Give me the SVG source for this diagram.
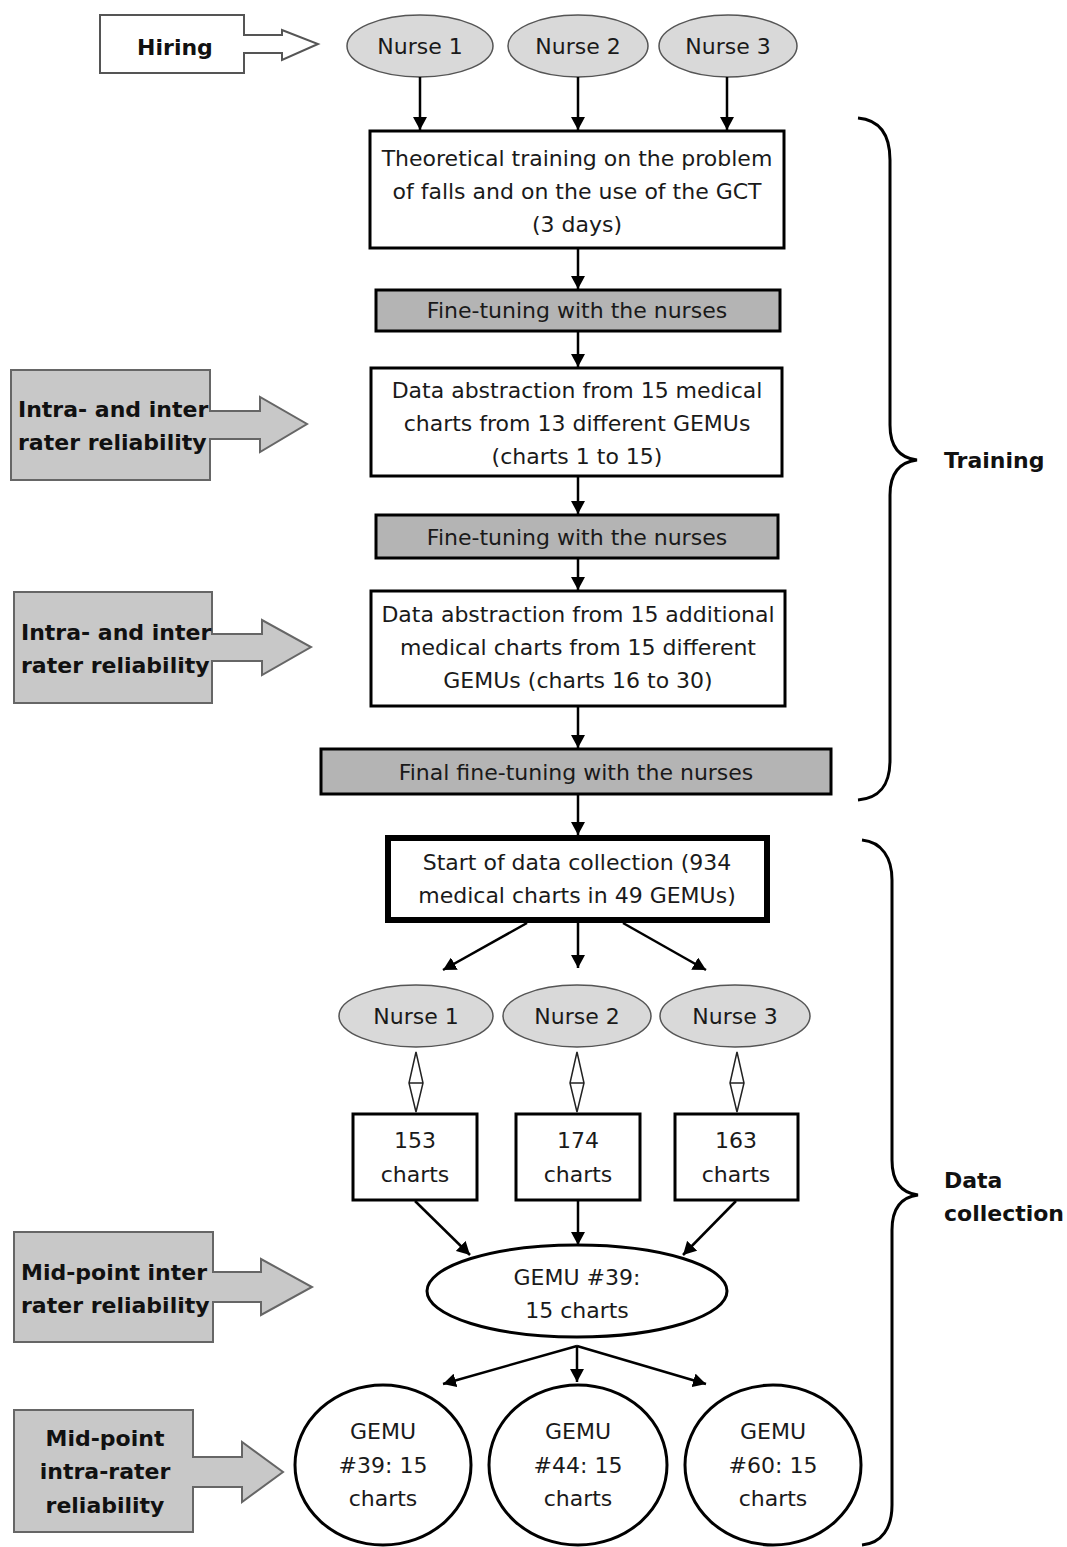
<svg xmlns="http://www.w3.org/2000/svg" width="1067" height="1547" viewBox="0 0 1067 1547">
<style>
.t{font-family:"DejaVu Sans",sans-serif;font-size:22px;fill:#1a1a1a;text-anchor:middle}
.b{font-family:"DejaVu Sans",sans-serif;font-weight:bold;font-size:22px;fill:#111}
.bm{text-anchor:middle}
.box{fill:#fff;stroke:#000;stroke-width:3}
.ft{fill:#b4b4b4;stroke:#000;stroke-width:3}
.nurse{fill:#d9d9d9;stroke:#555;stroke-width:1.5}
.side{fill:#c8c8c8;stroke:#666;stroke-width:2}
.conn{stroke:#000;stroke-width:2.5;fill:none;marker-end:url(#ah)}
.brace{stroke:#000;stroke-width:3;fill:none}
.dbl{fill:#fff;stroke:#222;stroke-width:1.5}
</style>
<defs>
<marker id="ah" markerUnits="userSpaceOnUse" markerWidth="14" markerHeight="14" refX="13" refY="7" orient="auto">
<path d="M0,0 L13,7 L0,14 z" fill="#000"/>
</marker>
</defs>
<rect width="1067" height="1547" fill="#fff"/>

<g id="hiring">
<rect x="100" y="15" width="144" height="58" fill="#fff" stroke="#555" stroke-width="2"/>
<path d="M244,35 H282 V30 L318,44 L282,60 V53 H244" fill="#fff" stroke="#555" stroke-width="2"/>
<rect x="242" y="36" width="4" height="16" fill="#fff"/>
<text class="b bm" x="175" y="55">Hiring</text>
</g>

<g id="nurse1-top"><ellipse class="nurse" cx="420" cy="46" rx="73" ry="31"/><text class="t" x="420" y="54">Nurse 1</text></g>
<g id="nurse2-top"><ellipse class="nurse" cx="578" cy="46" rx="70" ry="31"/><text class="t" x="578" y="54">Nurse 2</text></g>
<g id="nurse3-top"><ellipse class="nurse" cx="728" cy="46" rx="69" ry="31"/><text class="t" x="728" y="54">Nurse 3</text></g>

<g id="theory"><rect class="box" x="370" y="131" width="414" height="117"/>
<text class="t" x="577" y="166">Theoretical training on the problem</text>
<text class="t" x="577" y="199">of falls and on the use of the GCT</text>
<text class="t" x="577" y="232">(3 days)</text></g>

<g id="finetune1"><rect class="ft" x="376" y="290" width="404" height="41"/>
<text class="t" x="577" y="318">Fine-tuning with the nurses</text></g>

<g id="abstraction1"><rect class="box" x="371" y="368" width="411" height="108"/>
<text class="t" x="577" y="398">Data abstraction from 15 medical</text>
<text class="t" x="577" y="431">charts from 13 different GEMUs</text>
<text class="t" x="577" y="464">(charts 1 to 15)</text></g>

<g id="finetune2"><rect class="ft" x="376" y="515" width="402" height="43"/>
<text class="t" x="577" y="545">Fine-tuning with the nurses</text></g>

<g id="abstraction2"><rect class="box" x="371" y="591" width="414" height="115"/>
<text class="t" x="578" y="622">Data abstraction from 15 additional</text>
<text class="t" x="578" y="655">medical charts from 15 different</text>
<text class="t" x="578" y="688">GEMUs (charts 16 to 30)</text></g>

<g id="finalfinetune"><rect class="ft" x="321" y="749" width="510" height="45"/>
<text class="t" x="576" y="780">Final fine-tuning with the nurses</text></g>

<g id="start"><rect x="388" y="838" width="379" height="82" fill="#fff" stroke="#000" stroke-width="6"/>
<text class="t" x="577" y="870">Start of data collection (934</text>
<text class="t" x="577" y="903">medical charts in 49 GEMUs)</text></g>

<g id="nurse1"><ellipse class="nurse" cx="416" cy="1016" rx="77" ry="31"/><text class="t" x="416" y="1024">Nurse 1</text></g>
<g id="nurse2"><ellipse class="nurse" cx="577" cy="1016" rx="74" ry="31"/><text class="t" x="577" y="1024">Nurse 2</text></g>
<g id="nurse3"><ellipse class="nurse" cx="735" cy="1016" rx="75" ry="31"/><text class="t" x="735" y="1024">Nurse 3</text></g>

<g id="charts153"><rect class="box" x="353" y="1114" width="124" height="86"/>
<text class="t" x="415" y="1148">153</text><text class="t" x="415" y="1182">charts</text></g>
<g id="charts174"><rect class="box" x="516" y="1114" width="124" height="86"/>
<text class="t" x="578" y="1148">174</text><text class="t" x="578" y="1182">charts</text></g>
<g id="charts163"><rect class="box" x="675" y="1114" width="123" height="86"/>
<text class="t" x="736" y="1148">163</text><text class="t" x="736" y="1182">charts</text></g>

<g id="gemu39"><ellipse cx="577" cy="1291" rx="150" ry="46" fill="#fff" stroke="#000" stroke-width="3"/>
<text class="t" x="577" y="1285">GEMU #39:</text><text class="t" x="577" y="1318">15 charts</text></g>

<g id="gemu39c"><ellipse cx="383" cy="1465" rx="88" ry="80" fill="#fff" stroke="#000" stroke-width="3"/>
<text class="t" x="383" y="1439">GEMU</text><text class="t" x="383" y="1473">#39: 15</text><text class="t" x="383" y="1506">charts</text></g>
<g id="gemu44c"><ellipse cx="578" cy="1465" rx="89" ry="80" fill="#fff" stroke="#000" stroke-width="3"/>
<text class="t" x="578" y="1439">GEMU</text><text class="t" x="578" y="1473">#44: 15</text><text class="t" x="578" y="1506">charts</text></g>
<g id="gemu60c"><ellipse cx="773" cy="1465" rx="88" ry="80" fill="#fff" stroke="#000" stroke-width="3"/>
<text class="t" x="773" y="1439">GEMU</text><text class="t" x="773" y="1473">#60: 15</text><text class="t" x="773" y="1506">charts</text></g>

<g id="reliability1"><rect class="side" x="11" y="370" width="199" height="110"/>
<path class="side" d="M210,411 H260 V397 L307,424 L260,452 V439 H210"/>
<rect x="208" y="412" width="4" height="26" fill="#c8c8c8"/>
<text class="b" x="18" y="417">Intra- and inter</text><text class="b" x="18" y="450">rater reliability</text></g>

<g id="reliability2"><rect class="side" x="14" y="592" width="198" height="111"/>
<path class="side" d="M212,634 H262 V620 L311,647 L262,675 V661 H212"/>
<rect x="210" y="635" width="4" height="25" fill="#c8c8c8"/>
<text class="b" x="21" y="640">Intra- and inter</text><text class="b" x="21" y="673">rater reliability</text></g>

<g id="midpoint-inter"><rect class="side" x="14" y="1232" width="199" height="110"/>
<path class="side" d="M213,1272 H261 V1259 L312,1287 L261,1315 V1302 H213"/>
<rect x="211" y="1273" width="4" height="28" fill="#c8c8c8"/>
<text class="b" x="21" y="1280">Mid-point inter</text><text class="b" x="21" y="1313">rater reliability</text></g>

<g id="midpoint-intra"><rect class="side" x="14" y="1410" width="179" height="122"/>
<path class="side" d="M193,1457 H242 V1442 L283,1472 L242,1502 V1487 H193"/>
<rect x="191" y="1458" width="4" height="28" fill="#c8c8c8"/>
<text class="b bm" x="105" y="1446">Mid-point</text><text class="b bm" x="105" y="1479">intra-rater</text><text class="b bm" x="105" y="1513">reliability</text></g>

<g id="training-brace"><path class="brace" d="M858,118 C880,120 890,135 890,160 L890,425 C890,448 900,458 917,460 C900,462 890,472 890,495 L890,760 C890,785 880,798 858,800"/>
<text class="b" x="944" y="468">Training</text></g>

<g id="collection-brace"><path class="brace" d="M862,840 C882,842 892,858 892,880 L892,1160 C892,1183 902,1193 918,1195 C902,1197 892,1207 892,1230 L892,1505 C892,1528 882,1543 862,1545"/>
<text class="b" x="944" y="1188">Data</text><text class="b" x="944" y="1221">collection</text></g>

<g id="connectors">
<line class="conn" x1="420" y1="77" x2="420" y2="130"/>
<line class="conn" x1="578" y1="77" x2="578" y2="130"/>
<line class="conn" x1="727" y1="77" x2="727" y2="130"/>
<line class="conn" x1="578" y1="249" x2="578" y2="289"/>
<line class="conn" x1="578" y1="332" x2="578" y2="367"/>
<line class="conn" x1="578" y1="477" x2="578" y2="514"/>
<line class="conn" x1="578" y1="559" x2="578" y2="590"/>
<line class="conn" x1="578" y1="707" x2="578" y2="748"/>
<line class="conn" x1="578" y1="795" x2="578" y2="835"/>
<line class="conn" x1="527" y1="923" x2="443" y2="970"/>
<line class="conn" x1="578" y1="923" x2="578" y2="968"/>
<line class="conn" x1="623" y1="923" x2="706" y2="970"/>
<path class="dbl" d="M416,1052 L423,1083 L416,1112 L409,1083 Z M409,1083 H423"/>
<path class="dbl" d="M577,1052 L584,1083 L577,1112 L570,1083 Z M570,1083 H584"/>
<path class="dbl" d="M737,1052 L744,1083 L737,1112 L730,1083 Z M730,1083 H744"/>
<line class="conn" x1="415" y1="1201" x2="470" y2="1255"/>
<line class="conn" x1="578" y1="1201" x2="578" y2="1245"/>
<line class="conn" x1="736" y1="1201" x2="683" y2="1255"/>
<line class="conn" x1="577" y1="1346" x2="443" y2="1384"/>
<line class="conn" x1="577" y1="1346" x2="577" y2="1382"/>
<line class="conn" x1="577" y1="1346" x2="706" y2="1384"/>
</g>
</svg>
